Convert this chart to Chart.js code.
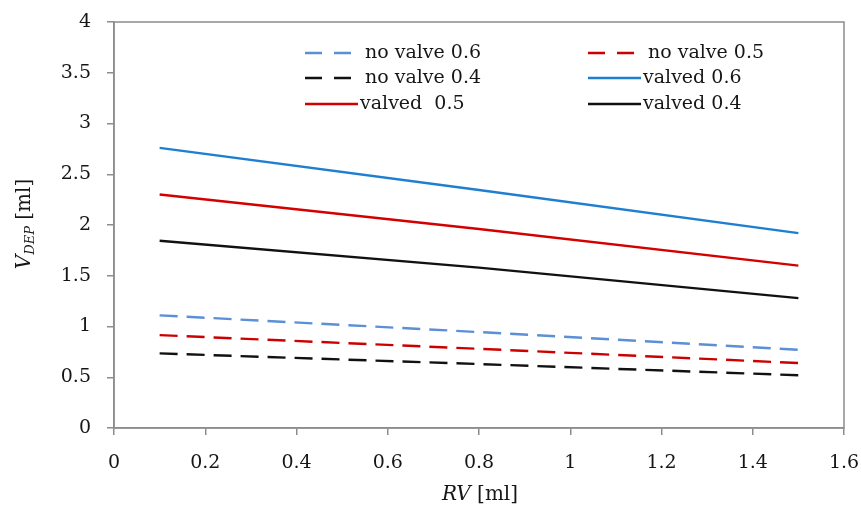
<!DOCTYPE html>
<html>
<head>
<meta charset="utf-8">
<script src="https://cdn.jsdelivr.net/npm/chart.js@4"></script>
<style>
  html, body { margin: 0; padding: 0; background: #fff; }
  #wrap { width: 861px; height: 507px; }
</style>
</head>
<body>
<div id="wrap"><canvas id="chart"></canvas></div>
<script>
// RV values [ml]
const rv = [0.1, 0.8, 1.5];

// V_DEP [ml] per configuration
const noValve06 = [1.11, 0.945, 0.77];
const noValve05 = [0.915, 0.78, 0.64];
const noValve04 = [0.735, 0.63, 0.52];
const valved06 = [2.76, 2.345, 1.92];
const valved05 = [2.30, 1.96, 1.60];
const valved04 = [1.845, 1.58, 1.28];

const labels = ['no valve 0.6', 'no valve 0.5', 'no valve 0.4', 'valved 0.6', 'valved  0.5', 'valved 0.4'];

const FONT = '"DejaVu Serif", serif';
const TEXT = '#161616';

function pts(ys) {
    return ys.map((y, i) => ({ x: rv[i], y: y }));
}

function series(label, ys, color, dashed) {
    return {
        label: label,
        data: pts(ys),
        borderColor: color,
        backgroundColor: color,
        borderWidth: 2.4,
        borderDash: dashed ? [18, 9] : [],
        pointRadius: 0,
        tension: 0,
        fill: false
    };
}

// box around plot + axis titles + legend inside plot
const extras = {
    id: 'extras',
    afterDraw(chart) {
        const ctx = chart.ctx;
        const a = chart.chartArea;
        ctx.save();
        ctx.strokeStyle = '#8c8c8c';
        ctx.lineWidth = 1.5;
        ctx.strokeRect(a.left, a.top, a.right - a.left, a.bottom - a.top);

        ctx.fillStyle = TEXT;
        ctx.textBaseline = 'middle';

        // x title
        ctx.font = 'italic 20px ' + FONT;
        const rvW = ctx.measureText('RV').width;
        ctx.font = '20px ' + FONT;
        const mlW = ctx.measureText(' [ml]').width;
        let x0 = 480 - (rvW + mlW) / 2;
        ctx.font = 'italic 20px ' + FONT;
        ctx.textAlign = 'left';
        ctx.fillText('RV', x0, 495);
        ctx.font = '20px ' + FONT;
        ctx.fillText(' [ml]', x0 + rvW, 495);

        // y title
        ctx.translate(25, 224);
        ctx.rotate(-Math.PI / 2);
        ctx.font = 'italic 20px ' + FONT;
        const vW = ctx.measureText('V').width;
        ctx.font = 'italic 13px ' + FONT;
        const subW = ctx.measureText('DEP').width;
        ctx.font = '20px ' + FONT;
        const restW = ctx.measureText(' [ml]').width;
        let sx = -(vW + subW + restW) / 2;
        ctx.font = 'italic 20px ' + FONT;
        ctx.fillText('V', sx, 0);
        ctx.font = 'italic 13px ' + FONT;
        ctx.fillText('DEP', sx + vW, 6);
        ctx.font = '20px ' + FONT;
        ctx.fillText(' [ml]', sx + vW + subW, 0);
        ctx.restore();

        // legend, two columns
        const slots = [
            [305, 53], [588, 53],
            [305, 78], [588, 78],
            [305, 104], [588, 104]
        ];
        ctx.save();
        chart.data.datasets.forEach((ds, i) => {
            const [lx, ly] = slots[i];
            const dashed = ds.borderDash.length > 0;
            ctx.strokeStyle = ds.borderColor;
            ctx.lineWidth = 2.4;
            ctx.setLineDash(dashed ? [17, 12] : []);
            ctx.beginPath();
            ctx.moveTo(lx, ly);
            ctx.lineTo(lx + (dashed ? 47 : 53), ly);
            ctx.stroke();
            ctx.setLineDash([]);
            ctx.fillStyle = TEXT;
            ctx.font = '19px ' + FONT;
            ctx.textAlign = 'left';
            ctx.textBaseline = 'middle';
            ctx.fillText(ds.label, lx + (dashed ? 60 : 55), ly);
        });
        ctx.restore();
    }
};

new Chart(document.getElementById('chart').getContext('2d'), {
    type: 'line',
    data: {
        datasets: [
            series(labels[0], noValve06, '#5b8fd6', true),
            series(labels[1], noValve05, '#cc0000', true),
            series(labels[2], noValve04, '#111111', true),
            series(labels[3], valved06, '#1e7fd0', false),
            series(labels[4], valved05, '#d40000', false),
            series(labels[5], valved04, '#111111', false)
        ]
    },
    options: {
        responsive: true,
        maintainAspectRatio: false,
        animation: false,
        layout: { padding: { top: 22, right: 17, left: 0, bottom: 0 } },
        plugins: {
            legend: { display: false },
            tooltip: { enabled: false }
        },
        scales: {
            x: {
                type: 'linear',
                min: 0,
                max: 1.6,
                afterFit(s) {
                    s.height = 79;
                    s.paddingLeft = 0;
                    s.paddingRight = 0;
                },
                afterBuildTicks(s) {
                    s.ticks = [0, 0.2, 0.4, 0.6, 0.8, 1, 1.2, 1.4, 1.6].map(v => ({ value: v }));
                },
                ticks: {
                    color: TEXT,
                    font: { family: FONT, size: 19 },
                    padding: 17,
                    maxRotation: 0,
                    callback: v => String(Math.round(v * 10) / 10)
                },
                grid: { drawOnChartArea: false, tickLength: 7, color: '#8c8c8c', lineWidth: 1.5 },
                border: { display: true, color: '#8c8c8c', width: 1.5 }
            },
            y: {
                min: 0,
                max: 4,
                afterFit(s) {
                    s.width = 114;
                    s.paddingTop = 0;
                    s.paddingBottom = 0;
                },
                ticks: {
                    stepSize: 0.5,
                    color: TEXT,
                    font: { family: FONT, size: 19 },
                    padding: 16,
                    callback: v => String(v)
                },
                grid: { drawOnChartArea: false, tickLength: 7, color: '#8c8c8c', lineWidth: 1.5 },
                border: { display: true, color: '#8c8c8c', width: 1.5 }
            }
        }
    },
    plugins: [extras]
});
</script>
</body>
</html>
